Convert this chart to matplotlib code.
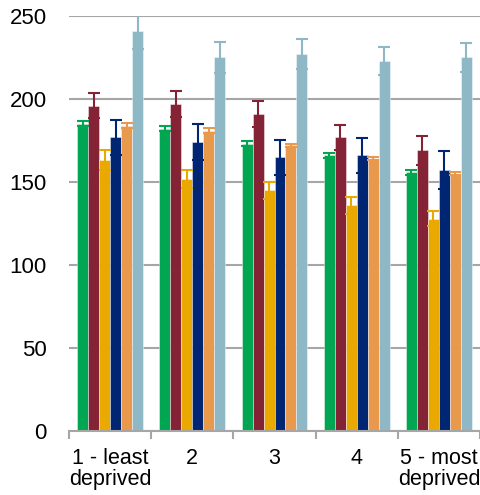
import matplotlib.pyplot as plt
import numpy as np

# Categories (deprivation quintiles)
categories = ['1 - least\ndeprived', '2', '3', '4', '5 - most\ndeprived']

# Series values, one list per bar colour
green_vals = [185, 182, 173, 166, 156]
maroon_vals = [196, 197, 191, 177, 169]
yellow_vals = [163, 152, 145, 136, 128]
navy_vals = [177, 174, 165, 166, 157]
orange_vals = [184, 181, 172, 164, 155]
lightblue_vals = [241, 225, 227, 223, 225]

# Error bar half-widths
green_err = [1.5, 1.5, 1.5, 1.5, 1.5]
maroon_err = [7.5, 8, 8, 7.5, 8.5]
yellow_err = [6, 5.5, 5, 5, 4.5]
navy_err = [10.5, 11, 10.5, 10.5, 11.5]
orange_err = [1.5, 1.5, 1, 1, 1]
lightblue_err = [11, 9.5, 9, 8.5, 8.5]

series = [
    (green_vals, green_err, '#00a651'),
    (maroon_vals, maroon_err, '#832335'),
    (yellow_vals, yellow_err, '#e9a900'),
    (navy_vals, navy_err, '#002673'),
    (orange_vals, orange_err, '#e9994c'),
    (lightblue_vals, lightblue_err, '#8fb8c7'),
]

plt.rcParams['font.family'] = ['Liberation Sans', 'DejaVu Sans']

fig = plt.figure(figsize=(4.8, 4.95), dpi=100)
ax = fig.add_axes([69 / 480, 1 - 431 / 495, 411 / 480, 415 / 495])

x = np.arange(len(categories)) + 0.5
width = 0.8 / len(series)

# Draw bars with error bars in the same colour
for i, (vals, errs, color) in enumerate(series):
    pos = x - 0.4 + width * (i + 0.5)
    ax.bar(pos, vals, width, color=color, edgecolor=(1, 1, 1, 0.5),
           linewidth=0.6, zorder=2)
    ax.errorbar(pos, vals, yerr=errs, fmt='none', ecolor=color,
                elinewidth=1.5, capsize=4.3, capthick=1.5, zorder=3)

ax.set_xlim(0, len(categories))
ax.set_ylim(0, 250)
ax.set_yticks([0, 50, 100, 150, 200, 250])
ax.yaxis.grid(True, color='#a6a6a6', linewidth=1.5, zorder=0)
ax.set_axisbelow(True)

# Category labels at centres, tick marks at the boundaries
ax.set_xticks(x)
ax.set_xticklabels(categories, fontsize=15.5, linespacing=1.05)
ax.set_xticks(np.arange(len(categories) + 1), minor=True)
ax.tick_params(axis='x', which='major', length=0, pad=12)
ax.tick_params(axis='x', which='minor', length=6, width=1.5, color='#a6a6a6')
ax.tick_params(axis='y', length=0, pad=16, labelsize=16)

for side in ['left', 'right', 'top']:
    ax.spines[side].set_visible(False)
ax.spines['bottom'].set_color('#a6a6a6')
ax.spines['bottom'].set_linewidth(1.5)

plt.savefig('out.png', dpi=100)
plt.close()
